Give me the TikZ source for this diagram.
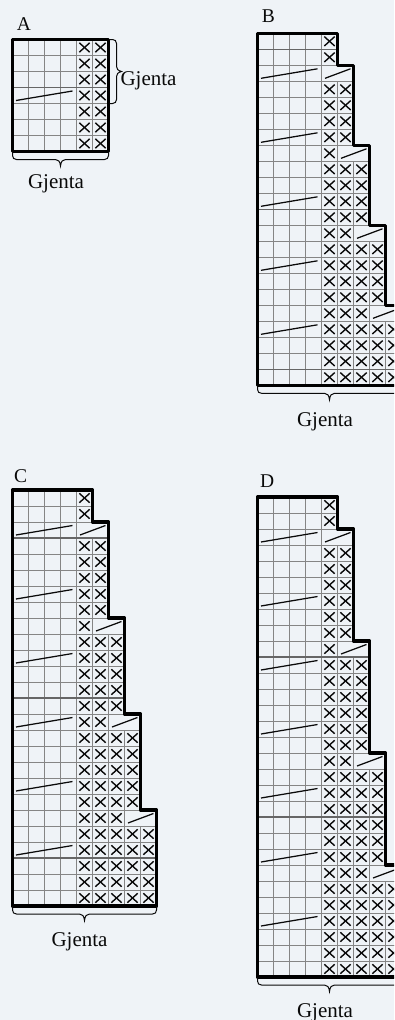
\documentclass[tikz,border=0pt]{standalone}
\usepackage{fontspec}
\setmainfont{Liberation Serif}
\definecolor{bgc}{HTML}{EFF3F7}
\definecolor{gridc}{HTML}{858585}
\definecolor{tengrid}{HTML}{666666}
\definecolor{inkc}{HTML}{0A0A0A}
\tikzset{
  gridline/.style={draw=gridc,line width=1pt},
  tenline/.style={draw=tengrid,line width=1.4pt},
  crossmark/.style={draw=inkc,line width=1.4pt},
  slant/.style={draw=inkc,line width=1.25pt},
  outline/.style={draw=black,line width=3.4pt,line join=round},
  bracket/.style={draw=inkc,line width=1pt},
  caption/.style={inner sep=0pt,anchor=base,font=\fontsize{21}{23}\selectfont,text=inkc},
  panellabel/.style={inner sep=0pt,anchor=base west,font=\fontsize{19.5}{21}\selectfont,text=inkc},
}
\newcommand{\gridrows}[1]{%
  \foreach \nx/\sd/\ld [count=\rr from 0] in {#1} {
    \pgfmathsetmacro\ry{\rr*16}
    \pgfmathsetmacro\rb{\rr*16+16}
    \pgfmathsetmacro\we{(4+\nx+2*\sd)*16}
    \pgfmathsetmacro\xe{(4+\nx)*16}
    \pgfmathtruncatemacro\mc{4+\nx}
    \draw[gridline] (0,\ry) -- (\we,\ry);
    \draw[gridline] (0,\rb) -- (\we,\rb);
    \foreach \cc in {1,...,\mc} {
      \draw[gridline] (\cc*16,\ry) -- (\cc*16,\rb);
    }
    \ifnum\nx>0
      \foreach \cc in {1,...,\nx} {
        \pgfmathsetmacro\cx{(3.5+\cc)*16}
        \pgfmathsetmacro\cy{\ry+8}
        \draw[crossmark] (\cx-5.2,\cy-4.7) -- (\cx+5.2,\cy+4.7);
        \draw[crossmark] (\cx-5.2,\cy+4.7) -- (\cx+5.2,\cy-4.7);
      }
    \fi
    \ifnum\sd=1
      \draw[slant] (\xe+3.5,\ry+13) -- (\xe+29,\ry+3.5);
    \fi
    \ifnum\ld=1
      \draw[slant] (3.5,\ry+13) -- (60,\ry+3.5);
    \fi
  }%
}
\newcommand{\bottombrace}[2]{% width, bottom
  \pgfmathsetmacro\hw{#1/2}
  \draw[bracket] (0,#2) -- (0,#2+4) .. controls (0,#2+6.5) and (1.5,#2+8) .. (4,#2+8)
    -- (\hw-5,#2+8) .. controls (\hw-2,#2+8) and (\hw-0.5,#2+10) .. (\hw,#2+14.5)
    .. controls (\hw+0.5,#2+10) and (\hw+2,#2+8) .. (\hw+5,#2+8)
    -- (#1-4,#2+8) .. controls (#1-1.5,#2+8) and (#1,#2+6.5) .. (#1,#2+4) -- (#1,#2);
}
\begin{document}
\begin{tikzpicture}[x=1pt,y=-1pt]
\useasboundingbox (0,0) rectangle (394,1020);
\fill[bgc] (0,0) rectangle (394,1020);
\clip (0,0) rectangle (394,1020);

% A
\begin{scope}[shift={(12.5,39.5)}]
  \gridrows{2/0/0,2/0/0,2/0/0,2/0/1,2/0/0,2/0/0,2/0/0}
  \draw[tenline] (0,48) -- (96,48);
  \draw[outline] (0,0) -- (96,0) -- (96,112) -- (0,112) -- cycle;
  \bottombrace{96}{112}
  \draw[bracket] (96.5,0) -- (100,0) .. controls (102.5,0) and (104,1.5) .. (104,4)
    -- (104,27) .. controls (104,29.5) and (105.5,31) .. (109,32)
    .. controls (105.5,33) and (104,34.5) .. (104,37)
    -- (104,60) .. controls (104,62.5) and (102.5,64) .. (100,64) -- (96.5,64);
\end{scope}
\node[panellabel] (labelA) at (16.7,30) {A};
\node[caption] (gjentaAside) at (148.5,85.5) {Gjenta};
\node[caption] (gjentaA) at (56,188) {Gjenta};

% B
\begin{scope}[shift={(257.5,33.3)}]
  \gridrows{1/0/0,1/0/0,0/1/1,2/0/0,2/0/0,2/0/0,2/0/1,1/1/0,3/0/0,3/0/0,3/0/1,3/0/0,2/1/0,4/0/0,4/0/1,4/0/0,4/0/0,3/1/0,5/0/1,5/0/0,5/0/0,5/0/0}
  \draw[tenline] (0,16) -- (80,16);
  \draw[tenline] (0,176) -- (112,176);
  \draw[tenline] (0,336) -- (144,336);
  \draw[outline] (0,0) -- (80,0) -- (80,32) -- (96,32) -- (96,112) -- (112,112) -- (112,192) -- (128,192) -- (128,272) -- (144,272) -- (144,352) -- (0,352) -- cycle;
  \bottombrace{144}{352}
\end{scope}
\node[panellabel] (labelB) at (261.7,22.7) {B};
\node[caption] (gjentaB) at (325,426) {Gjenta};

% C
\begin{scope}[shift={(12.5,490)}]
  \gridrows{1/0/0,1/0/0,0/1/1,2/0/0,2/0/0,2/0/0,2/0/1,2/0/0,1/1/0,3/0/0,3/0/1,3/0/0,3/0/0,3/0/0,2/1/1,4/0/0,4/0/0,4/0/0,4/0/1,4/0/0,3/1/0,5/0/0,5/0/1,5/0/0,5/0/0,5/0/0}
  \draw[tenline] (0,48) -- (96,48);
  \draw[tenline] (0,208) -- (112,208);
  \draw[tenline] (0,368) -- (144,368);
  \draw[outline] (0,0) -- (80,0) -- (80,32) -- (96,32) -- (96,128) -- (112,128) -- (112,224) -- (128,224) -- (128,320) -- (144,320) -- (144,416) -- (0,416) -- cycle;
  \bottombrace{144}{416}
\end{scope}
\node[panellabel] (labelC) at (14,482) {C};
\node[caption] (gjentaC) at (79.5,946.7) {Gjenta};

% D
\begin{scope}[shift={(257.5,497)}]
  \gridrows{1/0/0,1/0/0,0/1/1,2/0/0,2/0/0,2/0/0,2/0/1,2/0/0,2/0/0,1/1/0,3/0/1,3/0/0,3/0/0,3/0/0,3/0/1,3/0/0,2/1/0,4/0/0,4/0/1,4/0/0,4/0/0,4/0/0,4/0/1,3/1/0,5/0/0,5/0/0,5/0/1,5/0/0,5/0/0,5/0/0}
  \draw[tenline] (0,160) -- (112,160);
  \draw[tenline] (0,320) -- (128,320);
  \draw[outline] (0,0) -- (80,0) -- (80,32) -- (96,32) -- (96,144) -- (112,144) -- (112,256) -- (128,256) -- (128,368) -- (144,368) -- (144,480) -- (0,480) -- cycle;
  \bottombrace{144}{480}
\end{scope}
\node[panellabel] (labelD) at (260,487.7) {D};
\node[caption] (gjentaD) at (325,1017) {Gjenta};
\end{tikzpicture}
\end{document}
